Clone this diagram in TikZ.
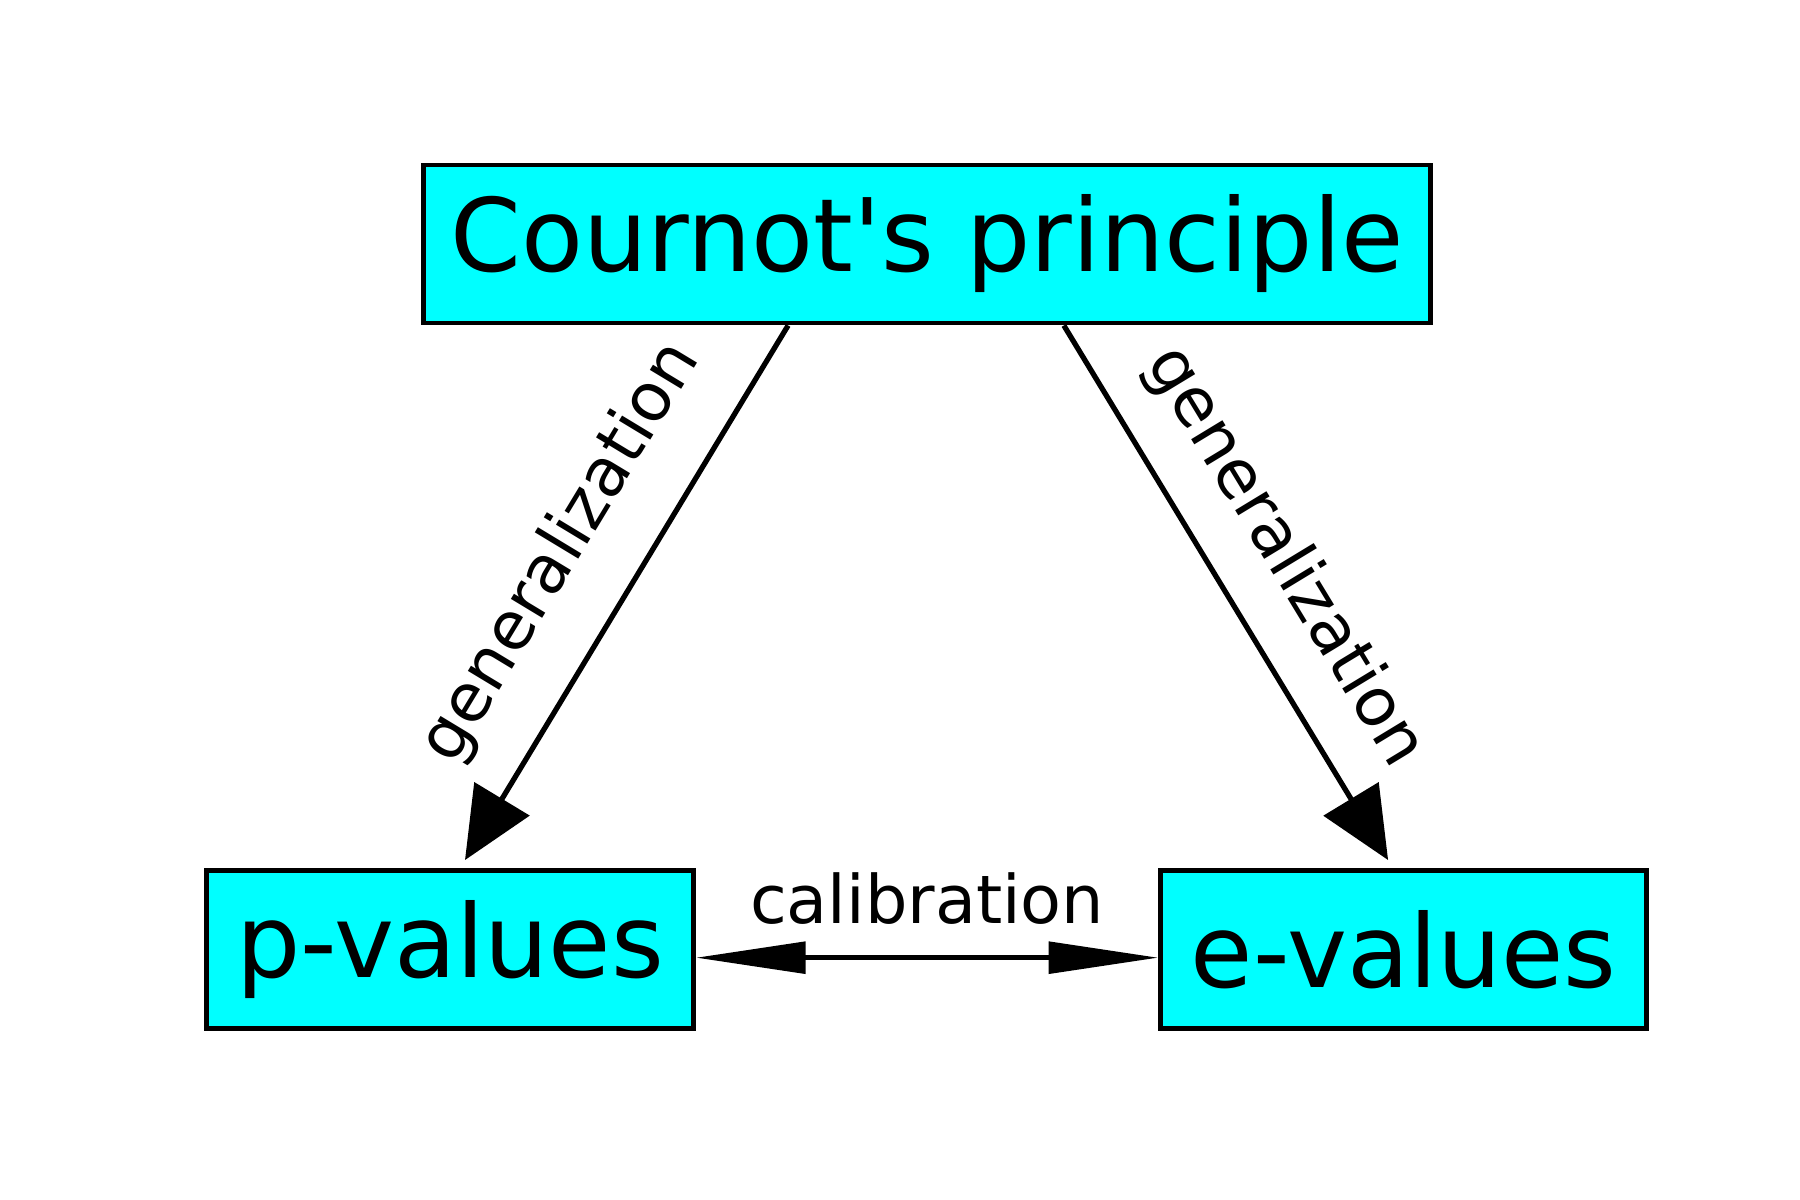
\documentclass[tikz,border=0pt]{standalone}
\usepackage{fontspec}
\setmainfont{DejaVu Sans}
\usetikzlibrary{positioning,arrows.meta}
\definecolor{boxcyan}{RGB}{0,255,255}
\tikzset{
  valbox/.style={draw, line width=1.2pt, fill=boxcyan, minimum height=1.37cm, inner sep=0pt, font=\fontsize{25}{30}\selectfont},
  genarrow/.style={line width=1.3pt, -{Triangle[length=0.62cm,width=0.55cm]}},
  calarrow/.style={line width=1.3pt, {Triangle[length=0.95cm,width=0.27cm]}-{Triangle[length=0.95cm,width=0.27cm]}},
  edgelabel/.style={font=\fontsize{16.5}{20}\selectfont}
}
\begin{document}
\begin{tikzpicture}
  \useasboundingbox (0,0) rectangle (15.6,10.4);
  \node[valbox, minimum width=8.73cm] (cp) at (8.035,8.285) {Cournot\textquotesingle s principle};
  \node[valbox, minimum width=4.22cm] (pv) at (3.9,2.17) {p-values};
  \node[valbox, minimum width=4.21cm] (ev) at (12.165,2.17) {e-values};
  % generalization arrows
  \draw[genarrow] ([xshift=-1.205cm]cp.south) -- node[edgelabel, sloped, above=7pt] {generalization} ([xshift=0.13cm,yshift=0.07cm]pv.north);
  \draw[genarrow] ([xshift=1.185cm]cp.south) -- node[edgelabel, sloped, above=5pt] {generalization} ([xshift=-0.135cm,yshift=0.07cm]ev.north);
  % calibration
  \draw[calarrow] ([yshift=-0.07cm]pv.east) -- node[edgelabel, above=0.15cm] {calibration} ([yshift=-0.07cm]ev.west);
\end{tikzpicture}
\end{document}
